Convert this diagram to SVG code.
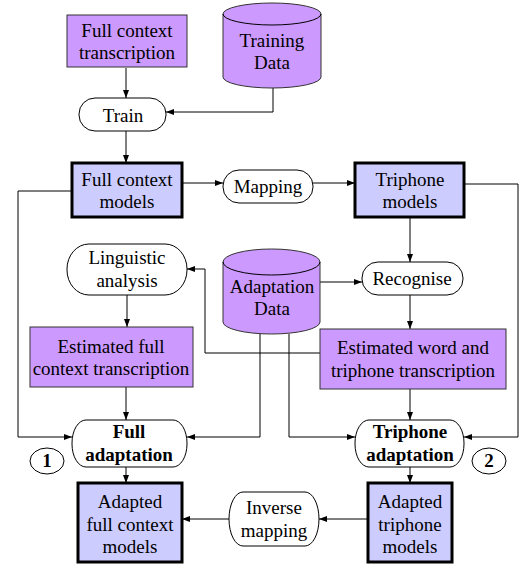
<svg xmlns="http://www.w3.org/2000/svg" width="525" height="564" viewBox="0 0 525 564">
<defs>
<marker id="ah" markerWidth="8" markerHeight="6" refX="8" refY="3" orient="auto" markerUnits="userSpaceOnUse"><path d="M0,0 L8,3 L0,6 z" fill="#000"/></marker>
<style>
text{font-family:'Liberation Serif','DejaVu Serif',serif;font-size:19px;text-anchor:middle;fill:#000}
.b{font-weight:bold}
.p{fill:#cc99ff;stroke:#333;stroke-width:1}
.m{fill:#ccccff;stroke:#000;stroke-width:3}
.w{fill:#fff;stroke:#000;stroke-width:1}
.c{fill:none;stroke:#000;stroke-width:1}
.a{marker-end:url(#ah)}
</style>
</defs>
<g id="connectors">
<path class="c a" d="M126,68 V98"/>
<path class="c a" d="M273,88 V112 H166"/>
<path class="c a" d="M126,131 V163"/>
<path class="c a" d="M182,183 H223"/>
<path class="c a" d="M313,183 H355"/>
<path class="c a" d="M72,191 H18 V437 H72"/>
<path class="c a" d="M464,184 H518 V437 H464"/>
<path class="c a" d="M410,217 V262"/>
<path class="c a" d="M320,282 H362"/>
<path class="c a" d="M320,353 H205 V269 H187"/>
<path class="c a" d="M127,295 V327"/>
<path class="c a" d="M410,295 V329"/>
<path class="c a" d="M126,387 V420"/>
<path class="c a" d="M410,389 V420"/>
<path class="c a" d="M260,334 V437 H187"/>
<path class="c a" d="M289,334 V437 H355"/>
<path class="c a" d="M126,467 V483"/>
<path class="c a" d="M410,467 V483"/>
<path class="c a" d="M368,519 H319"/>
<path class="c a" d="M229,519 H182"/>
</g>
<g font-family="Liberation Serif, serif">
<g id="full-context-transcription">
<rect class="p" x="67" y="15" width="120" height="52"/>
<text x="127" y="37">Full context</text>
<text x="127" y="59">transcription</text>
</g>
<g id="training-data">
<path class="p" d="M223,14 A49,11 0 0 1 321,14 V77 A49,11 0 0 1 223,77 Z"/>
<path class="c" d="M223,14 A49,11 0 0 0 321,14"/>
<text x="272" y="47">Training</text>
<text x="272" y="69">Data</text>
</g>
<g id="train">
<rect class="w" x="79" y="98" width="87" height="33" rx="16" ry="16"/>
<text x="123" y="122">Train</text>
</g>
<g id="full-context-models">
<rect class="m" x="72" y="163" width="110" height="54"/>
<text x="127" y="186">Full context</text>
<text x="127" y="208">models</text>
</g>
<g id="mapping">
<rect class="w" x="223" y="170" width="90" height="33" rx="16" ry="16"/>
<text x="268" y="193">Mapping</text>
</g>
<g id="triphone-models">
<rect class="m" x="355" y="163" width="109" height="54"/>
<text x="410" y="186">Triphone</text>
<text x="410" y="208">models</text>
</g>
<g id="linguistic-analysis">
<rect class="w" x="67" y="244" width="120" height="51" rx="22" ry="25"/>
<text x="127" y="264">Linguistic</text>
<text x="127" y="287">analysis</text>
</g>
<g id="adaptation-data">
<path class="p" d="M223,262 A48.5,13 0 0 1 320,262 V322 A48.5,12 0 0 1 223,322 Z"/>
<path class="c" d="M223,262 A48.5,13 0 0 0 320,262"/>
<text x="272" y="293">Adaptation</text>
<text x="272" y="315">Data</text>
</g>
<g id="recognise">
<rect class="w" x="362" y="262" width="101" height="33" rx="16" ry="16"/>
<text x="412" y="285">Recognise</text>
</g>
<g id="estimated-full-context-transcription">
<rect class="p" x="30" y="327" width="163" height="60"/>
<text x="111" y="353">Estimated full</text>
<text x="111" y="375">context transcription</text>
</g>
<g id="estimated-word-triphone-transcription">
<rect class="p" x="320" y="329" width="186" height="60"/>
<text x="413" y="354">Estimated word and</text>
<text x="413" y="377">triphone transcription</text>
</g>
<g id="full-adaptation">
<rect class="w" x="72" y="420" width="115" height="47" rx="14" ry="23"/>
<text class="b" x="129" y="438">Full</text>
<text class="b" x="129" y="461">adaptation</text>
</g>
<g id="triphone-adaptation">
<rect class="w" x="355" y="420" width="109" height="47" rx="14" ry="23"/>
<text class="b" x="410" y="438">Triphone</text>
<text class="b" x="410" y="461">adaptation</text>
</g>
<g id="label-1">
<ellipse class="w" cx="47" cy="461" rx="17" ry="13"/>
<text class="b" x="47" y="467">1</text>
</g>
<g id="label-2">
<ellipse class="w" cx="489" cy="461" rx="17" ry="13"/>
<text class="b" x="489" y="467">2</text>
</g>
<g id="adapted-full-context-models">
<rect class="m" x="78" y="483" width="104" height="79"/>
<text x="130" y="508">Adapted</text>
<text x="130" y="531">full context</text>
<text x="130" y="553">models</text>
</g>
<g id="inverse-mapping">
<rect class="w" x="229" y="492" width="90" height="54" rx="14" ry="27"/>
<text x="274" y="514">Inverse</text>
<text x="274" y="537">mapping</text>
</g>
<g id="adapted-triphone-models">
<rect class="m" x="368" y="483" width="84" height="79"/>
<text x="410" y="508">Adapted</text>
<text x="410" y="531">triphone</text>
<text x="410" y="553">models</text>
</g>
</g>
</svg>
